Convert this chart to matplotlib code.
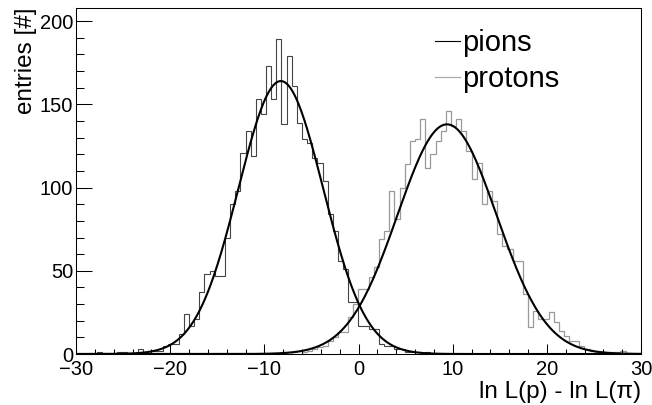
import numpy as np
import matplotlib.pyplot as plt
from matplotlib.lines import Line2D

plt.rcParams['font.family'] = ['Liberation Sans', 'DejaVu Sans']

# 110 bins between -30 and 30
edges = np.linspace(-30, 30, 111)

pions = [0, 0, 0, 0, 1, 0, 0, 0, 1, 1,
         0, 0, 3, 0, 2, 2, 2, 5, 6, 6,
         12, 24, 17, 21, 37, 48, 50, 47, 47, 70,
         90, 98, 121, 134, 119, 153, 144, 173, 153, 189,
         138, 179, 161, 139, 129, 127, 118, 115, 104, 84,
         74, 56, 51, 31, 31, 17, 17, 15, 15, 6,
         5, 5, 3, 3, 1, 1, 1, 0, 1, 0] + [0] * 40

protons = [0] * 40 + [
         1, 0, 1, 2, 1, 2, 3, 4, 5, 8,
         10, 13, 13, 22, 30, 39, 39, 46, 52, 69,
         74, 98, 81, 100, 114, 128, 129, 141, 112, 120,
         128, 134, 146, 137, 141, 134, 122, 105, 115, 90,
         98, 92, 72, 65, 63, 56, 56, 36, 16, 26,
         21, 21, 25, 19, 14, 11, 8, 8, 5, 3,
         2, 1, 1, 1, 1, 1, 2, 0, 0, 0]

# gaussian fits: amplitude, mean, sigma
pion_fit = (164, -8.25, 4.5)
proton_fit = (138, 9.4, 5.25)

labels = ['pions', 'protons']


def gaus(x, a, m, s):
    return a * np.exp(-0.5 * ((x - m) / s) ** 2)


dpi = 100
fig = plt.figure(figsize=(652 / dpi, 405 / dpi), dpi=dpi)
ax = fig.add_axes([76 / 652, 51 / 405, 565 / 652, 346 / 405])

ax.stairs(pions, edges, color='#444444', lw=0.8)
ax.stairs(protons, edges, color='#999999', lw=0.9)

xs = np.linspace(-30, 30, 600)
ax.plot(xs, gaus(xs, *pion_fit), color='black', lw=1.5)
ax.plot(xs, gaus(xs, *proton_fit), color='black', lw=1.5)

ax.set_xlim(-30, 30)
ax.set_ylim(0, 1.1 * max(pions))
ax.set_xticks(np.arange(-30, 31, 10))
ax.set_xticks(np.arange(-30, 31, 2), minor=True)
ax.set_yticks(np.arange(0, 201, 50))
ax.set_yticks(np.arange(0, 201, 10), minor=True)

ax.tick_params(axis='both', which='both', direction='in', top=False, right=False,
               labelsize=14.5, width=0.75)
ax.tick_params(axis='x', which='major', length=7.5, pad=4)
ax.tick_params(axis='x', which='minor', length=3.8)
ax.tick_params(axis='y', which='major', length=11.5, pad=2)
ax.tick_params(axis='y', which='minor', length=5.8)
for sp in ax.spines.values():
    sp.set_linewidth(0.75)

ax.set_xlabel('ln L(p) - ln L(\u03c0)', fontsize=17.5, loc='right', labelpad=2)
ax.set_ylabel('entries [#]', fontsize=17.5, loc='top', labelpad=2)

handles = [Line2D([], [], color='black', lw=0.8),
           Line2D([], [], color='#aaaaaa', lw=0.9)]
ax.legend(handles, labels, loc='upper left', bbox_to_anchor=(0.635, 0.938),
          frameon=False, fontsize=21, handlelength=0.85, handletextpad=0.1,
          labelspacing=0.25, borderpad=0, borderaxespad=0)

fig.savefig('out.png', dpi=dpi)
